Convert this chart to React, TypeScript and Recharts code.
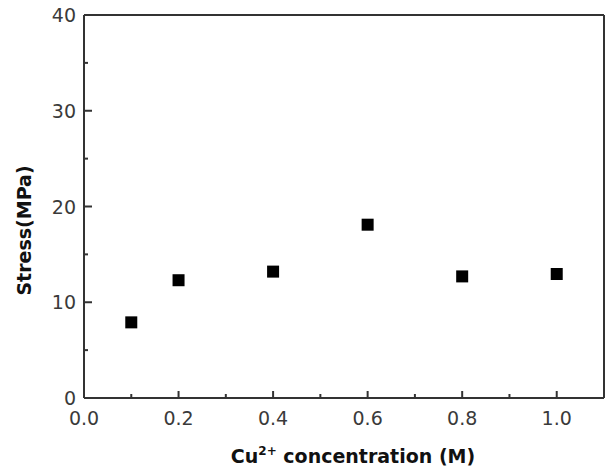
import React from "react";
import {
  ScatterChart,
  Scatter,
  XAxis,
  YAxis,
  ReferenceLine,
  Label,
} from "recharts";

const concentrations = [0.1, 0.2, 0.4, 0.6, 0.8, 1.0];
const stress = [7.9, 12.3, 13.2, 18.1, 12.7, 12.95];
const xTicks = [0, 0.1, 0.2, 0.3, 0.4, 0.5, 0.6, 0.7, 0.8, 0.9, 1.0];
const yTicks = [0, 5, 10, 15, 20, 25, 30, 35, 40];
const xMajor = [0, 0.2, 0.4, 0.6, 0.8, 1.0];
const yMajor = [0, 10, 20, 30, 40];

const data = concentrations.map((c, i) => ({ x: c, y: stress[i] }));

const AXIS = "#333";
const TEXT = "#3a3a3a";
const FONT = "'DejaVu Sans', sans-serif";

const isMajor = (v: number, list: number[]) =>
  list.some((m) => Math.abs(m - v) < 1e-6);

const XTick = (props: any) => {
  const { x, y, payload } = props;
  const v = payload.value as number;
  const major = isMajor(v, xMajor);
  return (
    <g>
      <line x1={x} x2={x} y1={y} y2={y - (major ? 7 : 4)} stroke={AXIS} strokeWidth={2} />
      {major && (
        <text x={x} y={y + 27} textAnchor="middle" fontSize={19} fontFamily={FONT} fill={TEXT}>
          {v.toFixed(1)}
        </text>
      )}
    </g>
  );
};

const YTick = (props: any) => {
  const { x, y, payload } = props;
  const v = payload.value as number;
  const major = isMajor(v, yMajor);
  return (
    <g>
      <line x1={x} x2={x + (major ? 8 : 4)} y1={y} y2={y} stroke={AXIS} strokeWidth={2} />
      {major && (
        <text x={x - 8} y={y + 7} textAnchor="end" fontSize={19} fontFamily={FONT} fill={TEXT}>
          {v}
        </text>
      )}
    </g>
  );
};

const XLabel = (props: any) => {
  const vb = props.viewBox;
  const cx = vb.x + vb.width / 2 + 9;
  const y = vb.y + 65;
  return (
    <text x={cx} y={y} textAnchor="middle" fontSize={19} fontWeight="bold" fontFamily={FONT} fill="#111">
      <tspan>Cu</tspan>
      <tspan fontSize={12} dy={-8}>2+</tspan>
      <tspan dy={8}> concentration (M)</tspan>
    </text>
  );
};

const YLabel = (props: any) => {
  const vb = props.viewBox;
  const x = 31;
  const cy = vb.y + vb.height / 2 + 24;
  return (
    <text
      x={x}
      y={cy}
      textAnchor="middle"
      fontSize={19}
      fontWeight="bold"
      fontFamily={FONT}
      fill="#111"
      transform={`rotate(-90, ${x}, ${cy})`}
    >
      Stress(MPa)
    </text>
  );
};

const Square = (props: any) => {
  const { cx, cy } = props;
  return <rect x={cx - 6} y={cy - 6} width={12} height={12} fill="#000" />;
};

export default function App() {
  return (
    <div style={{ position: "absolute", left: 0, top: 0 }}>
      <ScatterChart
        width={614}
        height={472}
        margin={{ top: 15, right: 10, left: 0, bottom: 0 }}
      >
        <XAxis
          type="number"
          dataKey="x"
          domain={[0, 1.1]}
          ticks={xTicks}
          interval={0}
          height={74}
          tickSize={0}
          tickMargin={0}
          tick={<XTick />}
          stroke={AXIS}
          strokeWidth={2}
          axisLine={{ stroke: AXIS, strokeWidth: 2 }}
        >
          <Label content={<XLabel />} />
        </XAxis>
        <YAxis
          type="number"
          dataKey="y"
          domain={[0, 40]}
          ticks={yTicks}
          interval={0}
          width={84}
          tickSize={0}
          tickMargin={0}
          tick={<YTick />}
          axisLine={{ stroke: AXIS, strokeWidth: 2 }}
        >
          <Label content={<YLabel />} />
        </YAxis>
        <ReferenceLine y={40} stroke={AXIS} strokeWidth={2} />
        <ReferenceLine x={1.1} stroke={AXIS} strokeWidth={2} />
        <Scatter data={data} shape={<Square />} isAnimationActive={false} />
      </ScatterChart>
    </div>
  );
}
